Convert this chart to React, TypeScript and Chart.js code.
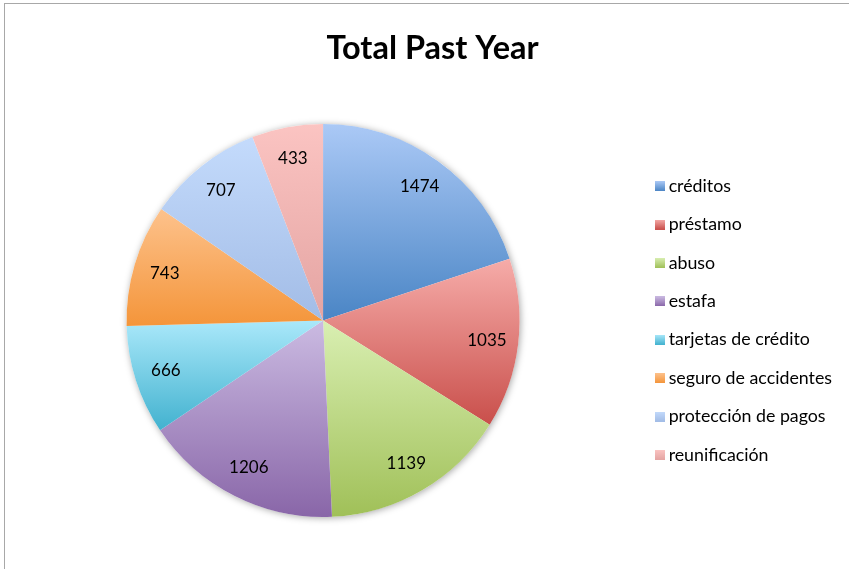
import React, { useEffect, useRef } from "react";
import { Chart, registerables } from "chart.js";

Chart.register(...registerables);

const TITLE = "Total Past Year";
const categories = [
  "créditos",
  "préstamo",
  "abuso",
  "estafa",
  "tarjetas de crédito",
  "seguro de accidentes",
  "protección de pagos",
  "reunificación",
];
const values = [1474, 1035, 1139, 1206, 666, 743, 707, 433];
const topColors = ["#abc9f6", "#f6aca9", "#d9efb2", "#cbbbe2", "#aae8fa", "#fdc28c", "#c4dbfc", "#fbc4c2"];
const bottomColors = ["#4a85c5", "#c94f4b", "#a0c058", "#8966a8", "#42b2cf", "#f4953a", "#a2bce6", "#e4a4a2"];
const legendColors = ["#5b8fcf", "#d9625e", "#b2cf72", "#9a7cb8", "#5ec0da", "#f8a352", "#b0c9ef", "#eeb0ae"];

const FONT = "Lato, 'Open Sans', sans-serif";

const gradientPlugin = {
  id: "sliceGradient",
  beforeDatasetsDraw(chart: any) {
    const ctx = chart.ctx;
    const meta = chart.getDatasetMeta(0);
    if (!meta || !meta.data.length) return;
    const first = meta.data[0] as any;
    ctx.save();
    ctx.beginPath();
    ctx.arc(first.x, first.y, first.outerRadius, 0, Math.PI * 2);
    ctx.shadowColor = "rgba(0,0,0,0.35)";
    ctx.shadowBlur = 7;
    ctx.shadowOffsetX = 1;
    ctx.shadowOffsetY = 1;
    ctx.fillStyle = "#ffffff";
    ctx.fill();
    ctx.restore();
    meta.data.forEach((arc: any, i: number) => {
      const { x, y, startAngle, endAngle, outerRadius: r } = arc;
      let minY = Math.min(y, y + r * Math.sin(startAngle), y + r * Math.sin(endAngle));
      let maxY = Math.max(y, y + r * Math.sin(startAngle), y + r * Math.sin(endAngle));
      for (const a of [-Math.PI / 2, Math.PI / 2, (3 * Math.PI) / 2]) {
        if (a >= startAngle && a <= endAngle) {
          const yy = y + r * Math.sin(a);
          minY = Math.min(minY, yy);
          maxY = Math.max(maxY, yy);
        }
      }
      const g = ctx.createLinearGradient(0, minY, 0, maxY);
      g.addColorStop(0, topColors[i]);
      g.addColorStop(1, bottomColors[i]);
      arc.options.backgroundColor = g;
    });
  },
  afterDatasetsDraw(chart: any) {
    const ctx = chart.ctx;
    const meta = chart.getDatasetMeta(0);
    ctx.save();
    ctx.font = `17px ${FONT}`;
    ctx.fillStyle = "#000000";
    ctx.textAlign = "center";
    ctx.textBaseline = "middle";
    meta.data.forEach((arc: any, i: number) => {
      const mid = (arc.startAngle + arc.endAngle) / 2;
      const d = arc.outerRadius * 0.84;
      ctx.fillText(String(values[i]), arc.x + d * Math.cos(mid), arc.y + d * Math.sin(mid));
    });
    ctx.restore();
  },
  afterDraw(chart: any) {
    const ctx = chart.ctx;
    ctx.save();
    ctx.font = `bold 32.5px ${FONT}`;
    ctx.fillStyle = "#000000";
    ctx.textAlign = "center";
    ctx.textBaseline = "middle";
    ctx.fillText(TITLE, 432.5, 49);
    ctx.restore();
  },
};

function makeSwatch(i: number): HTMLCanvasElement {
  const c = document.createElement("canvas");
  c.width = 10;
  c.height = 10;
  const x = c.getContext("2d")!;
  const g = x.createLinearGradient(0, 0, 0, 10);
  g.addColorStop(0, topColors[i]);
  g.addColorStop(1, bottomColors[i]);
  x.fillStyle = g;
  x.fillRect(0, 0, 10, 10);
  return c;
}

export default function App() {
  const ref = useRef<HTMLCanvasElement | null>(null);
  useEffect(() => {
    if (!ref.current) return;
    const swatches = categories.map((_, i) => makeSwatch(i));
    const chart = new Chart(ref.current, {
      type: "pie",
      data: {
        labels: categories,
        datasets: [
          {
            data: values,
            backgroundColor: legendColors,
            borderWidth: 0,
          },
        ],
      },
      options: {
        responsive: false,
        animation: false,
        layout: { padding: { left: 7, right: 7, top: 124, bottom: 52 } },
        plugins: {
          title: { display: false },
          legend: {
            position: "right",
            fullSize: false,
            labels: {
              usePointStyle: true,
              boxWidth: 0.01,
              boxHeight: 10,
              padding: 20.6,
              color: "#111111",
              font: { family: FONT, size: 17.8 },
              generateLabels(chart: any) {
                return chart.data.labels.map((text: string, i: number) => ({
                  text,
                  fillStyle: legendColors[i],
                  strokeStyle: legendColors[i],
                  lineWidth: 0,
                  pointStyle: swatches[i],
                  hidden: false,
                  index: i,
                }));
              },
            },
          },
          tooltip: { enabled: false },
        },
      },
      plugins: [gradientPlugin],
    });
    return () => chart.destroy();
  }, []);
  return (
    <div style={{ position: "fixed", left: 0, top: 0, width: 849, height: 569, overflow: "hidden", background: "#fff" }}>
      <div
        style={{
          position: "absolute",
          left: 4,
          top: 3,
          width: 900,
          height: 700,
          border: "1.5px solid #a8a8a8",
        }}
      />
      <canvas ref={ref} width={849} height={569} style={{ position: "absolute", left: 0, top: 0 }} />
    </div>
  );
}
